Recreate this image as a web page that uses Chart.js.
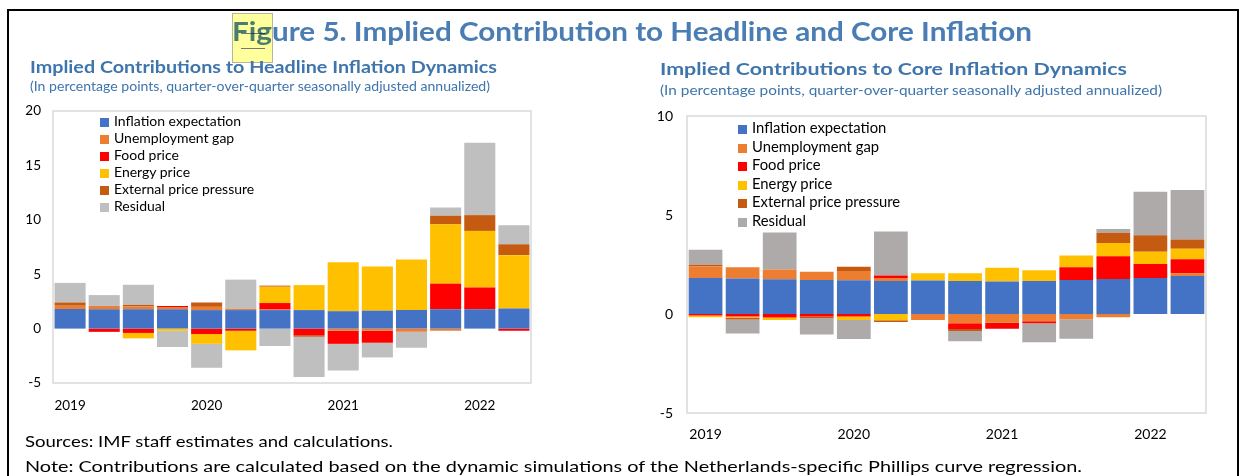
<!DOCTYPE html>
<html>
<head>
<meta charset="utf-8">
<script src="https://cdn.jsdelivr.net/npm/chart.js@4.4.0/dist/chart.umd.min.js"></script>
<style>
  body { margin: 0; background: #fff; font-family: Lato, 'Noto Sans', sans-serif; }
  #page { position: relative; width: 1246px; height: 476px; overflow: hidden; }
  #frame { position: absolute; left: 7px; top: 9px; width: 1232px; height: 500px; border: 2px solid #000; box-sizing: border-box; }
  .txt { position: absolute; white-space: nowrap; transform-origin: 0 50%; line-height: 1; }
  .title { color: #4a7db3; font-weight: bold; font-size: 27px; }
  .sub { color: #3f75ad; font-weight: bold; font-size: 17px; }
  .subsub { color: #3f75ad; font-size: 12.5px; }
  .foot { color: #000; font-size: 16px; }
  .box { position: absolute; }
  .legend { position: absolute; font-size: 14px; color: #000; }
  .legend div { position: absolute; white-space: nowrap; line-height: 1; }
  .legend span { display: inline-block; width: 9px; height: 9px; margin-right: 5px; vertical-align: -1px; }
  #note { position: absolute; left: 232px; top: 13px; width: 41px; height: 50px; background: #ffff9c; mix-blend-mode: multiply; border: 1px solid #b5b5a0; box-sizing: border-box; }
  #note i { position: absolute; left: 8px; width: 24px; height: 1px; background: #777; }
</style>
</head>
<body>
<div id="page">
  <div id="frame"></div>
  <div class="txt title" id="t0" data-w="800" style="left:232px; top:17px;">Figure 5. Implied Contribution to Headline and Core Inflation</div>
  <div id="note"><i style="top:19px"></i><i style="top:34px"></i></div>

  <div class="txt sub" data-w="467" style="left:30px; top:58px;">Implied Contributions to Headline Inflation Dynamics</div>
  <div class="txt subsub" data-w="460" style="left:30px; top:81px;">(In percentage points, quarter-over-quarter seasonally adjusted annualized)</div>
  <div class="txt sub" data-w="467" style="left:660px; top:60px;">Implied Contributions to Core Inflation Dynamics</div>
  <div class="txt subsub" data-w="502" style="left:660px; top:85px;">(In percentage points, quarter-over-quarter seasonally adjusted annualized)</div>

  <div class="box" style="left:0px; top:100px; width:545px; height:320px;"><canvas id="headline"></canvas></div>
  <div class="box" style="left:640px; top:100px; width:580px; height:345px;"><canvas id="core"></canvas></div>

  <div class="legend" id="legH" style="left:100px; top:114px;"></div>
  <div class="legend" id="legC" style="left:738px; top:120px; font-size:14.8px;"></div>

  <div class="txt foot" data-w="368" style="left:25px; top:433px;">Sources: IMF staff estimates and calculations.</div>
  <div class="txt foot" data-w="1057" style="left:25px; top:458px;">Note: Contributions are calculated based on the dynamic simulations of the Netherlands-specific Phillips curve regression.</div>
</div>

<script>
// quarters 2019Q1 - 2022Q2, only Q1 is labelled
const quarters = ['2019', '', '', '', '2020', '', '', '', '2021', '', '', '', '2022', ''];
const seriesNames = ['Inflation expectation', 'Unemployment gap', 'Food price', 'Energy price', 'External price pressure', 'Residual'];

// headline inflation contributions
const hInflExp = [1.8, 1.78, 1.78, 1.78, 1.7, 1.7, 1.7, 1.7, 1.6, 1.65, 1.7, 1.78, 1.78, 1.85];
const hUnemp   = [0.3, 0.3, 0.25, 0.2, 0.3, 0.1, 0.05, 0, -0.2, -0.2, -0.3, -0.2, 0, 0];
const hFood    = [0, -0.3, -0.4, 0.1, -0.5, -0.2, 0.6, -0.6, -1.2, -1.1, 0, 2.35, 2.0, -0.2];
const hEnergy  = [0, 0, -0.5, -0.2, -0.9, -1.8, 1.5, 2.3, 4.5, 4.05, 4.65, 5.45, 5.2, 4.9];
const hExt     = [0.3, 0, 0.15, 0, 0.4, 0, 0.1, -0.15, 0, 0, 0, 0.8, 1.45, 1.0];
const hResid   = [1.8, 1.0, 1.85, -1.5, -2.2, 2.7, -1.6, -3.7, -2.45, -1.35, -1.45, 0.75, 6.65, 1.75];

// core inflation contributions
const cInflExp = [1.82, 1.79, 1.75, 1.72, 1.7, 1.67, 1.69, 1.67, 1.64, 1.67, 1.72, 1.77, 1.82, 1.92];
const cUnemp   = [0.59, 0.57, 0.5, 0.42, 0.47, 0.15, -0.3, -0.47, -0.44, -0.37, -0.27, -0.17, 0, 0.14];
const cFood    = [-0.08, -0.13, -0.18, -0.12, -0.12, 0.12, 0, -0.29, -0.3, -0.1, 0.64, 1.15, 0.71, 0.71];
const cEnergy  = [-0.08, -0.05, -0.12, 0, -0.18, -0.32, 0.37, 0.39, 0.69, 0.54, 0.59, 0.67, 0.62, 0.53];
const cExt     = [0.08, -0.1, 0, -0.08, 0.22, -0.08, 0, -0.1, 0, 0, 0, 0.51, 0.83, 0.46];
const cResid   = [0.76, -0.7, 1.87, -0.84, -0.96, 2.23, 0, -0.52, 0, -0.96, -0.98, 0.19, 2.19, 2.5];

const hTicks = [-5, 0, 5, 10, 15, 20];
const cTicks = [-5, 0, 5, 10];

const colorsH = ['#4472C4', '#ED7D31', '#FF0000', '#FFC000', '#C55A11', '#BFBFBF'];
const colorsC = ['#4472C4', '#ED7D31', '#FF0000', '#FFC000', '#C55A11', '#AEAAAA'];

// light grey box round the plot area
const plotFrame = {
    id: 'plotFrame',
    afterDraw(chart) {
        const a = chart.chartArea, c = chart.ctx;
        c.save();
        c.strokeStyle = '#D9D9D9';
        c.lineWidth = 1.5;
        c.strokeRect(a.left, a.top, a.right - a.left, a.bottom - a.top);
        c.restore();
    }
};

function makeChart(id, series, colors, ticks, opt) {
    const ctx = document.getElementById(id).getContext('2d');
    return new Chart(ctx, {
        type: 'bar',
        data: {
            labels: quarters,
            datasets: series.map((d, i) => ({
                label: seriesNames[i],
                data: d,
                backgroundColor: colors[i],
                borderWidth: 0,
                categoryPercentage: 1,
                barPercentage: 0.91
            }))
        },
        options: {
            responsive: true,
            maintainAspectRatio: false,
            animation: false,
            layout: { padding: { top: opt.top, right: opt.right, left: 0, bottom: 0 } },
            plugins: { legend: { display: false }, tooltip: { enabled: false } },
            scales: {
                x: {
                    stacked: true,
                    grid: { display: false, drawTicks: false },
                    border: { display: false },
                    ticks: { autoSkip: false, maxRotation: 0, padding: opt.xPad, color: '#000',
                             font: { family: 'Lato', size: opt.fs } },
                    afterFit(s) { s.height = opt.xh; s.paddingLeft = 0; s.paddingRight = 0; }
                },
                y: {
                    stacked: true,
                    min: ticks[0],
                    max: ticks[ticks.length - 1],
                    afterBuildTicks(s) { s.ticks = ticks.map(v => ({ value: v })); },
                    grid: { display: false, drawTicks: false },
                    border: { display: false },
                    ticks: { padding: opt.yPad, color: '#000', font: { family: 'Lato', size: opt.fs } },
                    afterFit(s) { s.width = opt.yw; s.paddingTop = 0; s.paddingBottom = 0; }
                }
            }
        },
        plugins: [plotFrame]
    });
}

makeChart('headline', [hInflExp, hUnemp, hFood, hEnergy, hExt, hResid], colorsH, hTicks,
    { top: 11, right: 14, xh: 37, yw: 53, xPad: 15, yPad: 12, fs: 13.5 });
makeChart('core', [cInflExp, cUnemp, cFood, cEnergy, cExt, cResid], colorsC, cTicks,
    { top: 16, right: 14, xh: 32, yw: 47, xPad: 13, yPad: 14, fs: 14 });

function legend(id, colors, step) {
    const el = document.getElementById(id);
    seriesNames.forEach((n, i) => {
        const row = document.createElement('div');
        row.style.top = (i * step) + 'px';
        row.innerHTML = '<span style="background:' + colors[i] + '"></span>' + n;
        el.appendChild(row);
    });
}
legend('legH', colorsH, 17);
legend('legC', colorsC, 18.6);

// squeeze texts to the widths in the reference
document.querySelectorAll('[data-w]').forEach(el => {
    const w = el.getBoundingClientRect().width;
    el.style.transform = 'scaleX(' + (el.dataset.w / w) + ')';
});
</script>
</body>
</html>
